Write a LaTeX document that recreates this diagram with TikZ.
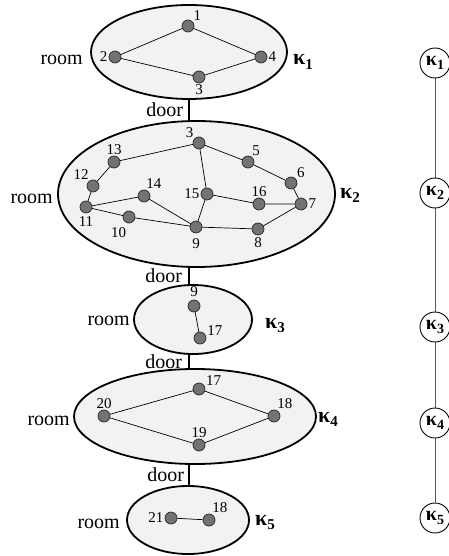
\documentclass[tikz,border=0pt]{standalone}
\usepackage{fontspec}
\setmainfont{Liberation Serif}
\usetikzlibrary{shapes.geometric,positioning}
\definecolor{roomfill}{gray}{0.95}
\definecolor{vxfill}{gray}{0.45}
\definecolor{treeline}{gray}{0.35}

% bold kappa with a lowered index: {index}{index size}
\newcommand{\kapsub}[2]{κ\raisebox{-0.45ex}{\fontsize{#2}{#2}\selectfont #1}}

\begin{document}
\begin{tikzpicture}[
  x=1pt, y=-1pt,
  room/.style={ellipse, draw, line width=1.8pt, fill=roomfill, inner sep=0pt},
  vx/.style={circle, draw=black!85, fill=vxfill, line width=0.7pt,
    minimum size=12pt, inner sep=0pt},
  lbl/.style={font=\fontsize{15}{15}\selectfont, inner sep=1pt},
  link/.style={line width=0.7pt},
  doorline/.style={line width=1.8pt},
  txt/.style={font=\fontsize{20}{20}\selectfont, inner sep=0pt},
  klbl/.style={font=\bfseries\fontsize{22}{22}\selectfont, inner sep=0pt, anchor=base west},
  tnode/.style={circle, draw, line width=0.9pt, fill=white, minimum size=30pt,
    inner sep=0pt, font=\bfseries\fontsize{20}{20}\selectfont},
  tlink/.style={draw=treeline, line width=1pt}
]
\useasboundingbox (0,0) rectangle (449,556);

% rooms
\node[room, minimum width=196pt, minimum height=94pt] (K1) at (189,52) {};
\node[room, minimum width=277pt, minimum height=146pt] (K2) at (196.5,194) {};
\node[room, minimum width=118pt, minimum height=69pt] (K3) at (193,319.5) {};
\node[room, minimum width=242pt, minimum height=95pt] (K4) at (195,416.5) {};
\node[room, minimum width=122pt, minimum height=68pt] (K5) at (188,520) {};
\coordinate (spine) at (189,0);

% doors
\draw[doorline] (K1.south) -- node[txt, left=5pt] {door} (K1.south |- K2.north);
\draw[doorline] (spine |- K2.south) -- node[txt, left=6pt] {door} (spine |- K3.north);
\draw[doorline] (spine |- K3.south) -- node[txt, left=6pt] {door} (spine |- K4.north);
\draw[doorline] (spine |- K4.south) -- node[txt, left=4pt] {door} (spine |- K5.north);

% room names and labels
\node[txt, anchor=base east] at (83,65) {room};
\node[txt, anchor=base east] at (53,203) {room};
\node[txt, anchor=base east] at (130,325) {room};
\node[txt, anchor=base east] at (70,425) {room};
\node[txt, anchor=base east] at (120,528) {room};
\node[klbl] at (293,65) {\kapsub{1}{15}};
\node[klbl] at (340,198) {\kapsub{2}{15}};
\node[klbl] at (265,328) {\kapsub{3}{15}};
\node[klbl] at (318,422) {\kapsub{4}{15}};
\node[klbl] at (255,525) {\kapsub{5}{15}};

% K1
\node[vx, label={[lbl]45:1}] (a1) at (188,26) {};
\node[vx, label={[lbl]left:2}] (a2) at (115,57) {};
\node[vx, label={[lbl]below:3}] (a3) at (199,77) {};
\node[vx, label={[lbl]right:4}] (a4) at (261,57) {};
\draw[link] (a2) -- (a1) -- (a4) -- (a3) -- (a2);

% K2
\node[vx, label={[lbl]135:3}] (b3) at (199,143) {};
\node[vx, label={[lbl]60:5}] (b5) at (248,162) {};
\node[vx, label={[lbl]40:6}] (b6) at (291,183) {};
\node[vx, label={[lbl]right:7}] (b7) at (301,204) {};
\node[vx, label={[lbl]above:16}] (b16) at (259,204) {};
\node[vx, label={[lbl]left:15}] (b15) at (207,194) {};
\node[vx, label={[lbl]80:14}] (b14) at (144,196) {};
\node[vx, label={[lbl]above:13}] (b13) at (114,162) {};
\node[vx, label={[lbl]120:12}] (b12) at (93,186) {};
\node[vx, label={[lbl, label distance=2pt]below:11}] (b11) at (86,207) {};
\node[vx, label={[lbl, label distance=3pt]260:10}] (b10) at (129,217) {};
\node[vx, label={[lbl, label distance=4pt]below:9}] (b9) at (196,227) {};
\node[vx, label={[lbl, label distance=1pt]below:8}] (b8) at (258,229) {};
\draw[link] (b3) -- (b13) -- (b12) -- (b11) -- (b14) -- (b9);
\draw[link] (b11) -- (b10) -- (b9) -- (b8) -- (b7) -- (b6) -- (b5) -- (b3);
\draw[link] (b3) -- (b15) -- (b9);
\draw[link] (b15) -- (b16) -- (b7);

% K3
\node[vx, label={[lbl, label distance=2pt]above:9}] (c9) at (194,306) {};
\node[vx, label={[lbl]15:17}] (c17) at (200,338) {};
\draw[link] (c9) -- (c17);

% K4
\node[vx, label={[lbl]20:17}] (d17) at (199,389) {};
\node[vx, label={[lbl]above:20}] (d20) at (104,416) {};
\node[vx, label={[lbl]70:18}] (d18) at (274,416) {};
\node[vx, label={[lbl]above:19}] (d19) at (199,445) {};
\draw[link] (d20) -- (d17) -- (d18) -- (d19) -- (d20);

% K5
\node[vx, label={[lbl]left:21}] (e21) at (171,518) {};
\node[vx, label={[lbl]70:18}] (e18) at (209,520) {};
\draw[link] (e21) -- (e18);

% tree of rooms
\node[tnode] (t1) at (435,63) {\kapsub{1}{14}};
\node[tnode] (t2) at (435,193) {\kapsub{2}{14}};
\node[tnode] (t3) at (435,327) {\kapsub{3}{14}};
\node[tnode] (t4) at (435,423) {\kapsub{4}{14}};
\node[tnode] (t5) at (435,518) {\kapsub{5}{14}};
\draw[tlink] (t1) -- (t2) -- (t3) -- (t4) -- (t5);
\end{tikzpicture}
\end{document}
